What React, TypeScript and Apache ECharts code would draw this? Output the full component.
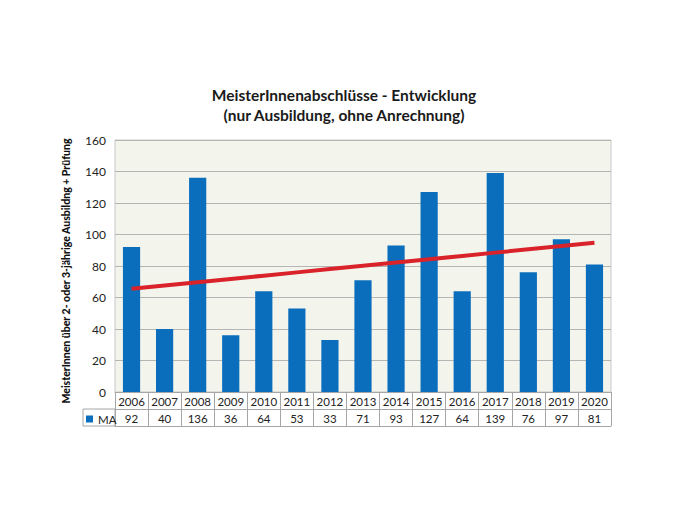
import React, { useEffect, useRef } from "react";
import * as echarts from "echarts";

const years = ["2006","2007","2008","2009","2010","2011","2012","2013","2014","2015","2016","2017","2018","2019","2020"];
const maValues = [92, 40, 136, 36, 64, 53, 33, 71, 93, 127, 64, 139, 76, 97, 81];
const yTicks = { min: 0, max: 160, interval: 20 };
const titleLines = ["MeisterInnenabschlüsse - Entwicklung", "(nur Ausbildung, ohne Anrechnung)"];
const yName = "MeisterInnen über 2- oder 3-jährige Ausbildng + Prüfung";
const seriesName = "MA";

function linearTrend(vals: number[]): number[] {
  const n = vals.length;
  const mx = (n - 1) / 2;
  const my = vals.reduce((a, b) => a + b, 0) / n;
  let sxy = 0, sxx = 0;
  vals.forEach((v, i) => { sxy += (i - mx) * (v - my); sxx += (i - mx) * (i - mx); });
  const slope = sxy / sxx;
  return vals.map((_, i) => +(my + slope * (i - mx)).toFixed(2));
}

const FONT = "Lato, 'Open Sans', sans-serif";
const TABLE_LINE = "#a6a6a6";

export default function App() {
  const ref = useRef<HTMLDivElement>(null);
  useEffect(() => {
    document.body.style.margin = "0";
    const chart = echarts.init(ref.current!, null, { renderer: "svg" });
    const trend = linearTrend(maValues);
    chart.setOption({
      animation: false,
      backgroundColor: "#ffffff",
      textStyle: { fontFamily: FONT },
      title: {
        text: titleLines.join("\n"),
        left: 339,
        textAlign: "center",
        top: 80,
        textStyle: { fontSize: 15.5, fontWeight: "bold", color: "#1a1a1a", lineHeight: 20, fontFamily: FONT },
      },
      legend: {
        data: [{ name: seriesName, icon: "rect" }],
        left: 86,
        top: 413,
        padding: 0,
        itemWidth: 7,
        itemHeight: 7,
        textStyle: { fontSize: 11.5, color: "#222", fontFamily: FONT },
      },
      grid: {
        left: 115,
        right: 69,
        top: 140,
        bottom: 118,
        show: true,
        backgroundColor: "#f3f5ec",
        borderColor: "#c8c8c8",
        borderWidth: 1,
      },
      xAxis: [
        {
          type: "category",
          data: years,
          position: "bottom",
          axisLine: { show: true, lineStyle: { color: TABLE_LINE, width: 1 } },
          axisTick: { show: true, interval: 0, length: 34, lineStyle: { color: TABLE_LINE, width: 1 } },
          axisLabel: { interval: 0, margin: 3, fontSize: 11.5, color: "#222" },
        },
        {
          type: "category",
          data: maValues.map(String),
          position: "bottom",
          offset: 17,
          axisLine: { show: true, lineStyle: { color: TABLE_LINE, width: 1 } },
          axisTick: { show: false },
          axisLabel: { interval: 0, margin: 3, fontSize: 11.5, color: "#222" },
        },
        {
          type: "category",
          data: years,
          position: "bottom",
          offset: 34,
          axisLine: { show: true, lineStyle: { color: TABLE_LINE, width: 1 } },
          axisTick: { show: false },
          axisLabel: { show: false },
        },
      ],
      yAxis: {
        type: "value",
        min: yTicks.min,
        max: yTicks.max,
        interval: yTicks.interval,
        name: yName,
        nameLocation: "middle",
        nameGap: 44,
        nameTextStyle: { fontSize: 10.5, fontWeight: 900, color: "#111", fontFamily: FONT, padding: [0, 10, 0, 0] },
        axisLine: { show: false },
        axisTick: { show: false },
        axisLabel: { fontSize: 12, color: "#222", margin: 9 },
        splitLine: { lineStyle: { color: "#b5b5b5", width: 1 } },
      },
      graphic: [
        {
          type: "rect",
          shape: { x: 83, y: 409, width: 32, height: 17 },
          style: { fill: "none", stroke: TABLE_LINE, lineWidth: 1 },
          silent: true,
        },
      ],
      series: [
        {
          name: seriesName,
          type: "bar",
          data: maValues,
          barWidth: "52%",
          itemStyle: { color: "#0a6ebd" },
        },
        {
          name: "Trend",
          type: "line",
          data: trend,
          showSymbol: false,
          symbol: "none",
          lineStyle: { color: "#d9222a", width: 4 },
          z: 5,
        },
      ],
    });
    return () => chart.dispose();
  }, []);
  return <div ref={ref} style={{ width: 680, height: 510 }} />;
}
